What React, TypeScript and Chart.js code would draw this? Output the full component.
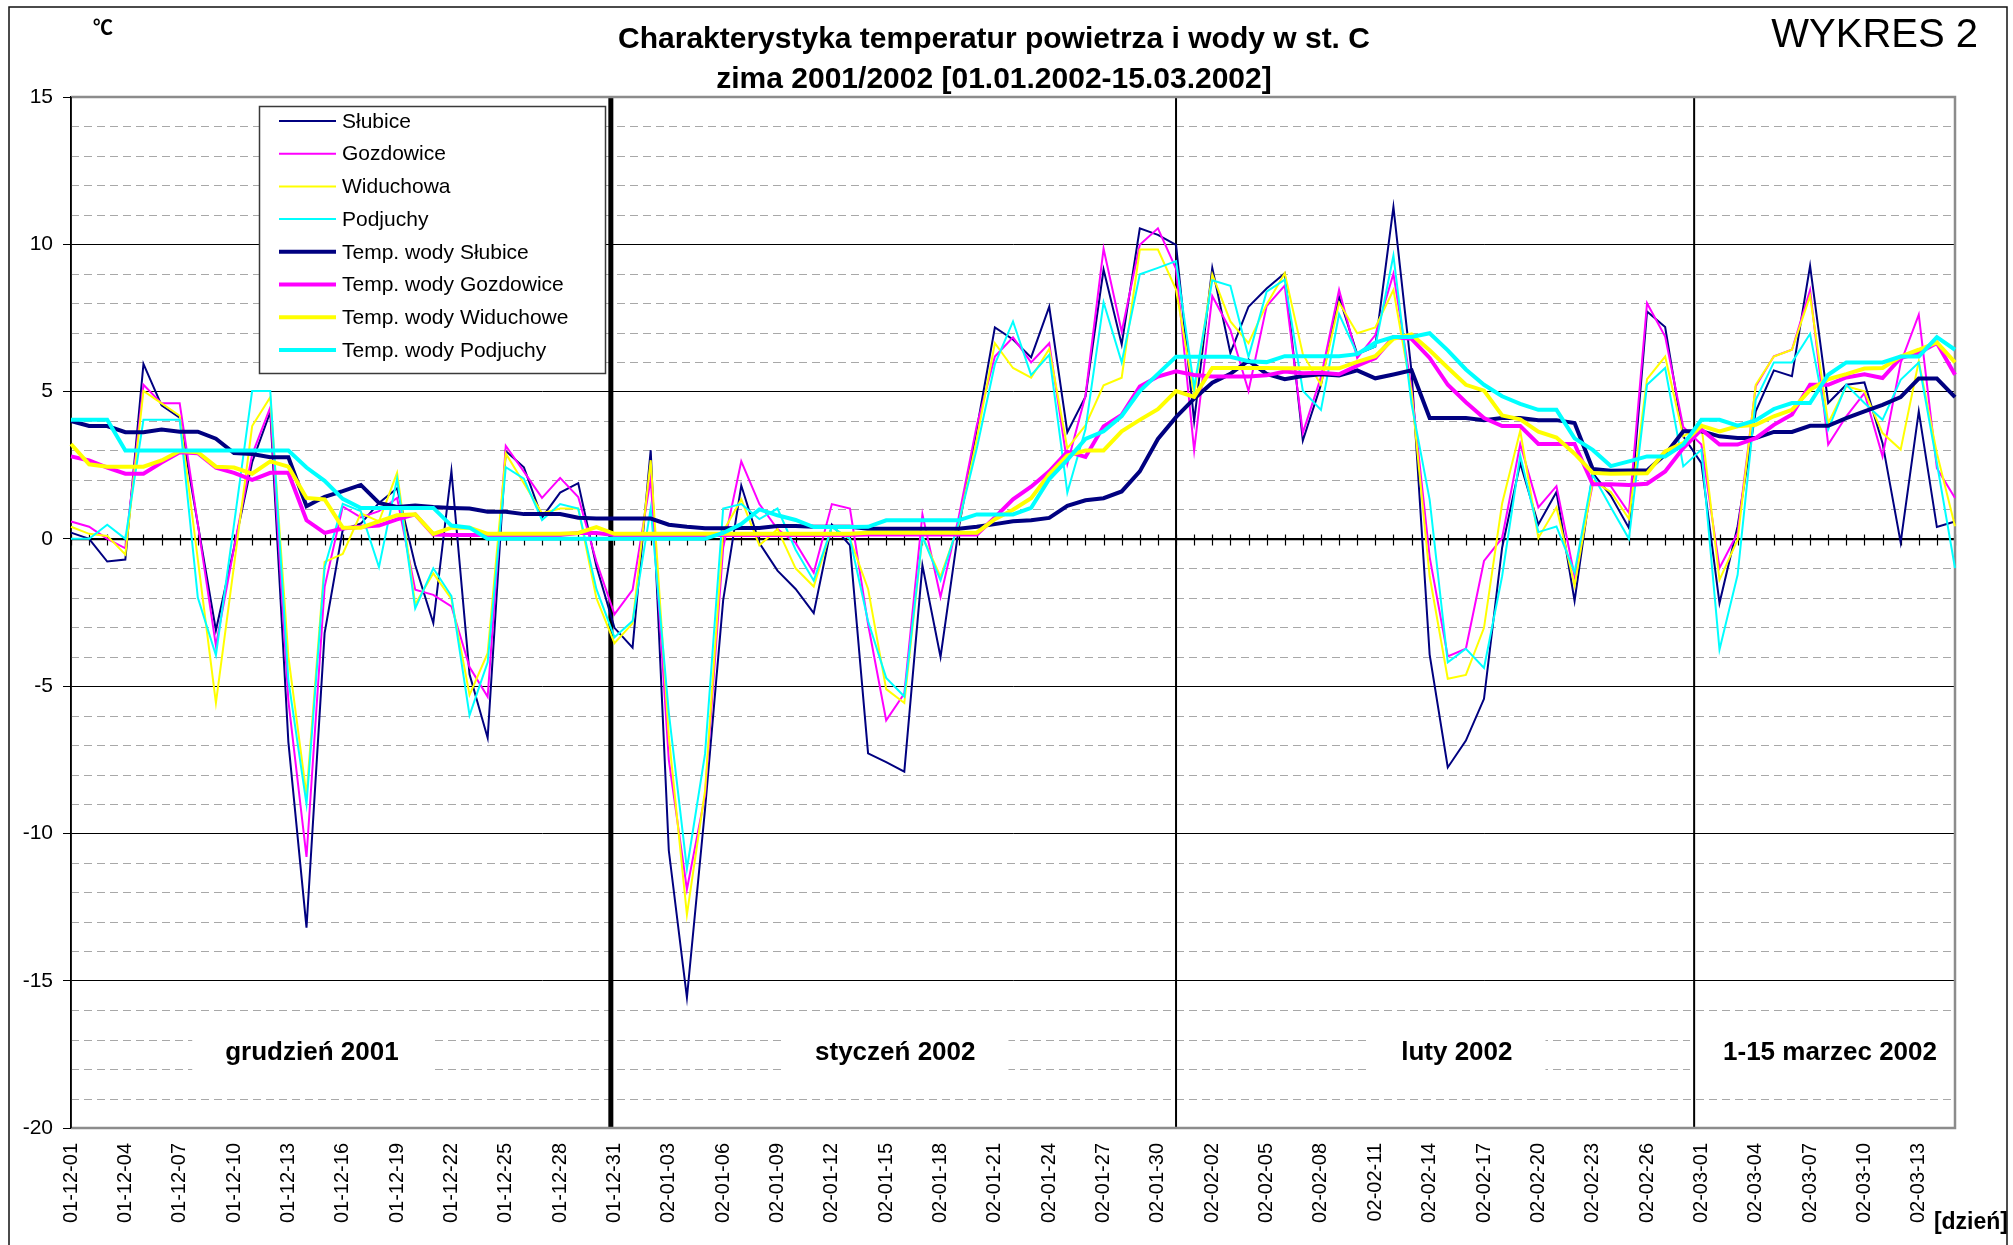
import React, { useEffect, useRef } from 'react';
import { Chart, registerables } from 'chart.js';

Chart.register(...registerables);

// ---------- categories (days) ----------
const MONTH_CODES = ['01-12', '02-01', '02-02', '02-03'];
const MONTH_DAYS = [31, 31, 28, 15];
const DAY_LABELS: string[] = [];
MONTH_CODES.forEach((code, m) => {
  for (let d = 1; d <= MONTH_DAYS[m]; d++) DAY_LABELS.push(`${code}-${String(d).padStart(2, '0')}`);
});

const SERIES_NAMES = [
  'Słubice',
  'Gozdowice',
  'Widuchowa',
  'Podjuchy',
  'Temp. wody Słubice',
  'Temp. wody Gozdowice',
  'Temp. wody Widuchowe',
  'Temp. wody Podjuchy',
];

// ---------- air temperatures ----------
const SLUBICE_AIR = [
  0.21, 0.0, -0.77, -0.7, 5.94, 4.53, 4.11, 0.5, -3.1, -0.3,
  2.6, 4.31, -6.9, -13.2, -3.2, 0.31, 0.52, 1.22, 1.72, -0.89,
  -2.86, 2.31, -4.6, -6.76, 2.98, 2.43, 0.72, 1.57, 1.89, -0.92,
  -3.02, -3.69, 3.01, -10.58, -15.57, -9.18, -2.09, 1.81, -0.14, -1.08,
  -1.7, -2.52, 0.48, -0.22, -7.28, -7.58, -7.9, -0.9, -4.01, 0.34,
  3.72, 7.18, 6.77, 6.16, 7.88, 3.62, 4.83, 9.14, 6.6, 10.54,
  10.32, 9.98, 4.0, 9.2, 6.31, 7.88, 8.5, 9.02, 3.34, 5.23,
  8.22, 6.27, 6.53, 11.27, 5.68, -3.93, -7.76, -6.85, -5.43, -0.3,
  2.57, 0.49, 1.59, -2.11, 2.24, 1.46, 0.37, 7.72, 7.19, 3.48,
  2.57, -2.18, 0.43, 4.33, 5.72, 5.52, 9.27, 4.61, 5.23, 5.31,
  3.25, -0.12, 4.33, 0.4, 0.59,
];

const GOZDOWICE_AIR = [
  0.59, 0.41, 0.0, -0.32, 5.23, 4.6, 4.6, 0.5, -3.63, -0.3,
  2.86, 4.46, -5.5, -10.8, -1.63, 1.1, 0.73, 0.94, 1.39, -1.73,
  -1.9, -2.29, -4.35, -5.36, 3.16, 2.28, 1.39, 2.07, 1.42, -0.76,
  -2.56, -1.73, 2.04, -7.5, -11.9, -8.7, -0.3, 2.63, 1.18, 0.33,
  -0.14, -1.15, 1.18, 1.03, -2.9, -6.16, -5.25, 0.83, -1.97, 0.73,
  3.85, 6.19, 6.84, 5.99, 6.64, 2.55, 4.86, 9.85, 7.03, 9.98,
  10.54, 9.17, 3.0, 8.24, 7.09, 5.02, 7.9, 8.6, 3.6, 5.49,
  8.45, 6.14, 6.92, 9.0, 5.1, -0.62, -3.99, -3.73, -0.75, 0.03,
  3.22, 1.07, 1.79, -1.27, 1.85, 1.79, 0.88, 8.0, 6.87, 3.8,
  3.2, -0.99, 0.2, 5.18, 6.2, 6.42, 8.44, 3.2, 4.16, 4.95,
  2.8, 5.97, 7.61, 2.4, 1.39,
];

const WIDUCHOWA_AIR = [
  0.41, 0.17, 0.1, -0.53, 5.02, 4.6, 4.18, -0.7, -5.57, -0.9,
  3.83, 4.81, -4.0, -8.7, -0.78, -0.51, 0.87, 0.59, 2.24, -2.22,
  -1.17, -2.04, -5.3, -3.88, 2.9, 1.89, 0.87, 1.03, 1.03, -2.01,
  -3.54, -2.87, 2.67, -6.7, -12.76, -8.56, 0.25, 1.34, -0.22, 0.33,
  -1.0, -1.62, 0.4, 0.0, -1.7, -5.1, -5.57, 0.08, -1.28, 0.47,
  3.39, 6.64, 5.8, 5.47, 6.45, 3.07, 3.85, 5.21, 5.47, 9.82,
  9.82, 8.46, 4.89, 8.98, 7.38, 6.64, 7.96, 9.02, 6.27, 5.23,
  8.02, 6.98, 7.18, 8.45, 4.97, -1.27, -4.75, -4.62, -3.02, 1.2,
  3.67, 0.03, 1.07, -1.59, 1.98, 1.59, 0.68, 5.42, 6.19, 3.48,
  3.87, -1.39, -0.03, 5.23, 6.19, 6.42, 8.25, 3.93, 5.18, 5.01,
  3.59, 3.03, 6.03, 2.91, 0.43,
];

const PODJUCHY_AIR = [
  0.0, 0.0, 0.48, 0.0, 4.04, 4.04, 4.04, -1.99, -3.95, 0.5,
  5.02, 5.02, -4.8, -9.0, -0.96, 1.19, 0.94, -0.96, 2.04, -2.36,
  -1.0, -1.94, -5.99, -4.19, 2.43, 2.04, 0.64, 1.18, 1.03, -1.7,
  -3.34, -2.79, 1.03, -5.9, -11.2, -7.3, 1.03, 1.18, 0.67, 1.03,
  -0.37, -1.42, 0.4, 0.0, -2.8, -4.72, -5.35, 0.08, -1.41, 0.54,
  3.07, 5.93, 7.38, 5.56, 6.25, 1.57, 3.72, 8.03, 5.99, 8.98,
  9.2, 9.43, 5.14, 8.78, 8.59, 6.18, 8.39, 8.8, 5.03, 4.38,
  7.63, 6.27, 6.53, 9.62, 4.58, 1.33, -4.19, -3.73, -4.38, -1.27,
  2.83, 0.23, 0.42, -1.14, 2.18, 1.07, 0.0, 5.23, 5.8, 2.46,
  3.03, -3.76, -1.22, 4.72, 5.99, 5.99, 6.96, 3.71, 5.23, 4.61,
  4.04, 5.4, 5.99, 2.57, -0.99,
];

// ---------- water temperatures ----------
const SLUBICE_WATER = [
  4.0, 3.83, 3.83, 3.62, 3.62, 3.71, 3.64, 3.64, 3.4, 2.91,
  2.88, 2.77, 2.77, 1.11, 1.43, 1.62, 1.83, 1.22, 1.08, 1.13,
  1.08, 1.05, 1.03, 0.92, 0.92, 0.84, 0.84, 0.84, 0.72, 0.69,
  0.69, 0.69, 0.69, 0.48, 0.41, 0.36, 0.36, 0.37, 0.37, 0.44,
  0.44, 0.41, 0.41, 0.41, 0.34, 0.34, 0.34, 0.34, 0.34, 0.34,
  0.41, 0.5, 0.6, 0.63, 0.71, 1.12, 1.31, 1.38, 1.61, 2.29,
  3.39, 4.13, 4.76, 5.3, 5.6, 6.05, 5.6, 5.42, 5.53, 5.59,
  5.55, 5.72, 5.45, 5.58, 5.72, 4.1, 4.1, 4.1, 4.03, 4.1,
  4.1, 4.03, 4.03, 3.93, 2.37, 2.31, 2.32, 2.32, 2.86, 3.65,
  3.65, 3.48, 3.42, 3.42, 3.63, 3.63, 3.84, 3.84, 4.1, 4.33,
  4.55, 4.81, 5.44, 5.44, 4.81,
];

const GOZDOWICE_WATER = [
  2.8, 2.66, 2.42, 2.21, 2.21, 2.59, 2.94, 2.91, 2.42, 2.24,
  2.0, 2.24, 2.24, 0.63, 0.2, 0.35, 0.41, 0.45, 0.66, 0.83,
  0.15, 0.13, 0.13, 0.13, 0.13, 0.13, 0.13, 0.13, 0.2, 0.2,
  0.13, 0.13, 0.13, 0.13, 0.13, 0.13, 0.13, 0.13, 0.13, 0.13,
  0.13, 0.13, 0.13, 0.13, 0.15, 0.15, 0.15, 0.15, 0.15, 0.15,
  0.15, 0.73, 1.34, 1.77, 2.29, 2.96, 2.78, 3.82, 4.21, 5.17,
  5.51, 5.69, 5.56, 5.51, 5.51, 5.51, 5.55, 5.68, 5.62, 5.64,
  5.59, 5.88, 6.14, 6.85, 6.79, 6.14, 5.23, 4.64, 4.1, 3.83,
  3.83, 3.22, 3.22, 3.22, 1.85, 1.85, 1.83, 1.87, 2.29, 3.08,
  3.71, 3.2, 3.2, 3.42, 3.87, 4.22, 5.23, 5.23, 5.48, 5.59,
  5.46, 6.14, 6.31, 6.65, 5.57,
];

const WIDUCHOWE_WATER = [
  3.22, 2.53, 2.45, 2.45, 2.45, 2.66, 2.98, 2.94, 2.45, 2.42,
  2.21, 2.63, 2.45, 1.39, 1.34, 0.38, 0.38, 0.59, 0.8, 0.83,
  0.17, 0.38, 0.38, 0.17, 0.17, 0.17, 0.17, 0.17, 0.2, 0.4,
  0.17, 0.17, 0.17, 0.17, 0.17, 0.17, 0.17, 0.17, 0.17, 0.17,
  0.17, 0.17, 0.17, 0.17, 0.21, 0.21, 0.21, 0.21, 0.21, 0.21,
  0.21, 0.67, 0.99, 1.38, 2.19, 2.83, 3.0, 3.0, 3.65, 4.04,
  4.4, 5.02, 4.82, 5.8, 5.8, 5.8, 5.8, 5.79, 5.79, 5.79,
  5.79, 6.01, 6.2, 6.79, 6.94, 6.4, 5.81, 5.23, 5.03, 4.19,
  4.06, 3.64, 3.44, 2.89, 2.24, 2.21, 2.22, 2.23, 2.97, 3.25,
  3.84, 3.65, 3.82, 3.87, 4.16, 4.38, 5.06, 5.42, 5.59, 5.78,
  5.8, 6.19, 6.42, 6.67, 5.99,
];

const PODJUCHY_WATER = [
  4.04, 4.04, 4.04, 3.0, 3.0, 3.0, 3.0, 3.0, 3.0, 3.0,
  3.0, 3.0, 3.0, 2.42, 1.97, 1.36, 1.05, 1.05, 1.05, 1.05,
  1.05, 0.45, 0.38, 0.0, 0.0, 0.0, 0.0, 0.0, 0.0, 0.0,
  0.0, 0.0, 0.0, 0.0, 0.0, 0.0, 0.2, 0.5, 1.0, 0.8,
  0.64, 0.4, 0.4, 0.4, 0.41, 0.63, 0.63, 0.63, 0.63, 0.63,
  0.83, 0.83, 0.83, 1.05, 2.03, 2.68, 3.39, 3.65, 4.17, 5.02,
  5.6, 6.18, 6.18, 6.18, 6.18, 6.03, 6.0, 6.2, 6.2, 6.2,
  6.2, 6.27, 6.66, 6.85, 6.85, 6.98, 6.4, 5.75, 5.23, 4.84,
  4.58, 4.38, 4.38, 3.41, 3.02, 2.47, 2.63, 2.8, 2.8, 3.2,
  4.04, 4.04, 3.84, 4.02, 4.41, 4.61, 4.61, 5.57, 5.99, 5.99,
  5.99, 6.19, 6.19, 6.85, 6.42,
];

// ---------- axis & annotations ----------
const Y_MIN = -20;
const Y_MAX = 15;
const Y_MAJOR = 5;
const MONTH_NAMES = ['grudzień 2001', 'styczeń 2002', 'luty 2002', '1-15 marzec 2002'];
const MONTH_LABEL_AT = [13.3, 45.5, 76.5, 97.1];
const MONTH_LABEL_Y = -17.68;
const MONTH_BORDERS = [29.8, 61, 89.6];
const TITLE_LINES = ['Charakterystyka temperatur powietrza i wody w st. C', 'zima 2001/2002 [01.01.2002-15.03.2002]'];

const FONT = '"Liberation Sans", Arial, Helvetica, sans-serif';
const COLORS = ['#000080', '#FF00FF', '#FFFF00', '#00FFFF', '#000080', '#FF00FF', '#FFFF00', '#00FFFF'];

const decorPlugin = {
  id: 'decor',
  beforeDatasetsDraw(chart: any) {
    const { ctx, chartArea: a, scales } = chart;
    const x = scales.x;
    const y = scales.y;
    ctx.save();
    // minor dashed grid lines
    ctx.strokeStyle = '#a8a8a8';
    ctx.lineWidth = 1;
    ctx.setLineDash([8, 5]);
    for (let v = Y_MIN + 1; v < Y_MAX; v++) {
      if (v % Y_MAJOR === 0) continue;
      const py = Math.round(y.getPixelForValue(v)) + 0.5;
      ctx.beginPath();
      ctx.moveTo(a.left, py);
      ctx.lineTo(a.right, py);
      ctx.stroke();
    }
    ctx.setLineDash([]);

    // month labels on white boxes
    ctx.font = `bold 26px ${FONT}`;
    ctx.textAlign = 'center';
    ctx.textBaseline = 'alphabetic';
    MONTH_NAMES.forEach((name, k) => {
      const cx = x.getPixelForValue(MONTH_LABEL_AT[k]);
      const by = y.getPixelForValue(MONTH_LABEL_Y);
      const w = ctx.measureText(name).width;
      ctx.fillStyle = '#ffffff';
      ctx.fillRect(cx - w / 2 - 33, by - 40, w + 66, 64);
      ctx.fillStyle = '#000000';
      ctx.fillText(name, cx, by);
    });

    // zero axis with category tick marks
    const y0 = Math.round(y.getPixelForValue(0)) + 0.5;
    ctx.strokeStyle = '#000';
    ctx.lineWidth = 1.5;
    ctx.beginPath();
    ctx.moveTo(a.left, y0);
    ctx.lineTo(a.right, y0);
    ctx.stroke();
    ctx.lineWidth = 1.2;
    for (let i = 0; i < DAY_LABELS.length; i++) {
      const px = Math.round(x.getPixelForValue(i)) + 0.5;
      ctx.beginPath();
      ctx.moveTo(px, y0 - 5);
      ctx.lineTo(px, y0 + 6);
      ctx.stroke();
    }

    // month separators
    MONTH_BORDERS.forEach((p, k) => {
      const px = x.getPixelForValue(p);
      ctx.strokeStyle = '#000';
      ctx.lineWidth = k === 0 ? 5 : 2;
      ctx.beginPath();
      ctx.moveTo(px, a.top);
      ctx.lineTo(px, a.bottom);
      ctx.stroke();
    });

    // plot area border (gray)
    ctx.strokeStyle = '#8c8c8c';
    ctx.lineWidth = 2.5;
    ctx.beginPath();
    ctx.moveTo(a.left, a.top);
    ctx.lineTo(a.right, a.top);
    ctx.lineTo(a.right, a.bottom);
    ctx.lineTo(a.left, a.bottom);
    ctx.stroke();
    // left axis
    ctx.strokeStyle = '#000';
    ctx.lineWidth = 1.5;
    ctx.beginPath();
    ctx.moveTo(a.left, a.top);
    ctx.lineTo(a.left, a.bottom);
    ctx.stroke();
    ctx.restore();
  },
  afterDatasetsDraw(chart: any) {
    const { ctx } = chart;
    ctx.save();
    const LX = 259, LY = 106, LW = 346, LH = 267;
    ctx.fillStyle = '#fff';
    ctx.fillRect(LX, LY, LW, LH);
    ctx.strokeStyle = '#3a3a3a';
    ctx.lineWidth = 1.5;
    ctx.strokeRect(LX + 0.5, LY + 0.5, LW, LH);
    ctx.font = `21px ${FONT}`;
    ctx.textAlign = 'left';
    ctx.textBaseline = 'middle';
    SERIES_NAMES.forEach((name, i) => {
      const ry = LY + 15 + i * 32.7;
      ctx.strokeStyle = COLORS[i];
      ctx.lineWidth = i < 4 ? 2 : 4;
      ctx.beginPath();
      ctx.moveTo(LX + 20, ry);
      ctx.lineTo(LX + 77, ry);
      ctx.stroke();
      ctx.fillStyle = '#000';
      ctx.fillText(name, LX + 83, ry + 1);
    });
    ctx.restore();
  },
  afterDraw(chart: any) {
    const { ctx } = chart;
    ctx.save();
    ctx.fillStyle = '#000';
    ctx.textAlign = 'center';
    ctx.textBaseline = 'alphabetic';
    ctx.font = `bold 30px ${FONT}`;
    ctx.fillText(TITLE_LINES[0], 994, 48);
    ctx.fillText(TITLE_LINES[1], 994, 88);

    ctx.textAlign = 'right';
    ctx.font = `40px ${FONT}`;
    ctx.fillText('WYKRES 2', 1978, 47);

    ctx.textAlign = 'left';
    ctx.font = `bold 20px "Noto Sans CJK JP", "DejaVu Sans", ${FONT}`;
    ctx.fillText('℃', 93, 35);

    ctx.textAlign = 'right';
    ctx.font = `bold 23px ${FONT}`;
    ctx.fillText('[dzień]', 2008, 1229);

    // outer frame
    ctx.strokeStyle = '#111';
    ctx.lineWidth = 1.5;
    ctx.strokeRect(9, 7, 1998, 1250);
    ctx.restore();
  },
};

export default function App() {
  const canvasRef = useRef<HTMLCanvasElement>(null);

  useEffect(() => {
    document.body.style.margin = '0';
    const canvas = canvasRef.current;
    if (!canvas) return;
    const series = [
      SLUBICE_AIR, GOZDOWICE_AIR, WIDUCHOWA_AIR, PODJUCHY_AIR,
      SLUBICE_WATER, GOZDOWICE_WATER, WIDUCHOWE_WATER, PODJUCHY_WATER,
    ];
    const datasets = series.map((d, i) => ({
      label: SERIES_NAMES[i],
      data: d,
      borderColor: COLORS[i],
      backgroundColor: COLORS[i],
      borderWidth: i < 4 ? 2 : 4,
      pointRadius: 0,
      pointHoverRadius: 0,
      tension: 0,
      fill: false,
      order: 8 - i,
    }));

    const chart = new Chart(canvas, {
      type: 'line',
      data: { labels: DAY_LABELS, datasets },
      options: {
        responsive: false,
        animation: false,
        devicePixelRatio: 1,
        layout: { padding: { top: 97, right: 58, bottom: 0, left: 0 } },
        plugins: {
          legend: { display: false },
          tooltip: { enabled: false },
          title: { display: false },
        },
        scales: {
          x: {
            type: 'category',
            offset: false,
            grid: { display: false, drawTicks: false },
            border: { display: false },
            ticks: {
              autoSkip: false,
              maxRotation: 90,
              minRotation: 90,
              padding: 15,
              color: '#000',
              font: { family: FONT, size: 20 },
              callback: (_v: any, i: number) => (i % 3 === 0 ? DAY_LABELS[i] : ''),
            },
            afterFit: (s: any) => {
              s.height = 117;
            },
          },
          y: {
            min: Y_MIN,
            max: Y_MAX,
            ticks: {
              stepSize: Y_MAJOR,
              padding: 10,
              color: '#000',
              font: { family: FONT, size: 21 },
            },
            grid: {
              color: (c: any) => (c.tick && (c.tick.value === Y_MIN || c.tick.value === Y_MAX) ? 'rgba(0,0,0,0)' : '#000'),
              lineWidth: 1,
              drawTicks: true,
              tickLength: 8,
              tickColor: '#000',
            },
            border: { display: true, color: '#000', width: 1.5 },
            afterFit: (s: any) => {
              s.width = 71;
            },
          },
        },
      } as any,
      plugins: [decorPlugin],
    });

    return () => chart.destroy();
  }, []);

  return (
    <div style={{ position: 'absolute', left: 0, top: 0, width: 2013, height: 1245, background: '#fff' }}>
      <canvas ref={canvasRef} width={2013} height={1245} style={{ display: 'block' }} />
    </div>
  );
}
